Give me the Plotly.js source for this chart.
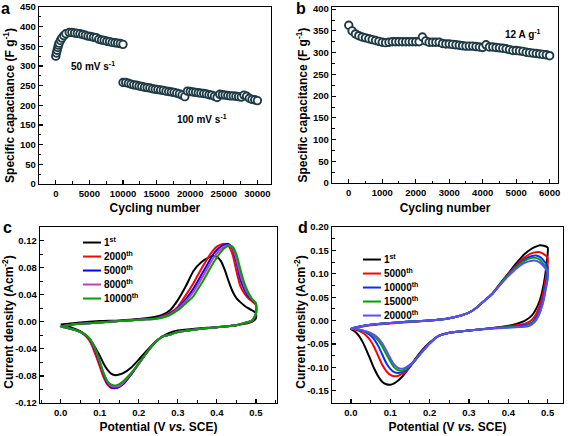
<!DOCTYPE html>
<html>
<head>
<meta charset="utf-8">
<script src="https://cdn.plot.ly/plotly-3.0.1.min.js"></script>
<style>html,body{margin:0;padding:0;background:#fff;}#chart{width:569px;height:436px;}</style>
</head>
<body>
<div id="chart"></div>
<script>
// ---------- Panel a: cycling at 50 and 100 mV/s ----------
var cyclesA50 = [0,100,200,300,400,500,700,900,1200,1500,2000,2400,2800,3200,3600,4000,4400,4800,5200,5600,6000,6400,6800,7200,7600,8000,8400,8800,9200,9600,10000];
var capA50 = [325,333,340,347,353,358,365,371,377,382,385,385,384,383,382,380,378,376,375,373,372,368,366,365,363,362,360,359,358,357,355];
var cyclesA100 = [10000,10400,10800,11200,11600,12000,12400,12800,13200,13600,14000,14400,14800,15200,15600,16000,16400,16800,17200,17600,18000,18400,18800,19200,19600,20000,20400,20800,21200,21600,22000,22400,22800,23200,23600,24000,24400,24800,25200,25600,26000,26400,26800,27200,27600,28000,28400,28800,29200,29600,30000];
var capA100 = [258,258,256,254,252,251,249,248,246,245,244,242,241,240,239,238,236,235,234,233,231,229,226,222,236,235,234,233,232,231,230,229,227,226,223,220,228,227,226,225,224,224,223,222,221,226,223,218,215,214,212];

// ---------- Panel b: cycling at 12 A/g ----------
var cyclesB = [0,100,200,300,400,500,600,700,800,900,1000,1100,1200,1300,1400,1500,1600,1700,1800,1900,2000,2100,2200,2300,2400,2500,2600,2700,2800,2900,3000,3100,3200,3300,3400,3500,3600,3700,3800,3900,4000,4100,4200,4300,4400,4500,4600,4700,4800,4900,5000,5100,5200,5300,5400,5500,5600,5700,5800,5900,6000];
var capB = [363,350,343,339,336,334,332,330,328,326,324,323,324,325,325,325,325,325,325,325,325,325,336,327,324,324,324,324,321,320,320,319,318,317,316,315,315,315,314,313,312,318,313,313,312,311,310,309,307,305,305,304,303,301,300,299,298,297,296,295,293];

// ---------- Panel c: CV curves ----------
var potC = [0.00,0.02,0.05,0.10,0.15,0.20,0.24,0.26,0.28,0.30,0.32,0.34,0.36,0.38,0.39,0.40,0.41,0.42,0.43,0.44,0.45,0.46,0.47,0.48,0.49,0.50,
            0.50,
            0.49,0.47,0.45,0.40,0.35,0.30,0.28,0.26,0.24,0.22,0.20,0.18,0.16,0.15,0.14,0.13,0.12,0.11,0.10,0.09,0.08,0.07,0.05,0.03,0.01,0.00];
var curC1 = [-0.004,-0.003,-0.001,0.001,0.002,0.004,0.007,0.010,0.017,0.032,0.052,0.075,0.088,0.095,0.097,0.096,0.090,0.077,0.060,0.045,0.035,0.029,0.024,0.020,0.017,0.013,
             0.005,
             0.000,-0.003,-0.005,-0.008,-0.010,-0.013,-0.016,-0.022,-0.031,-0.043,-0.056,-0.068,-0.076,-0.078,-0.079,-0.077,-0.071,-0.062,-0.050,-0.040,-0.030,-0.023,-0.014,-0.009,-0.006,-0.005];
var curC2000 = [-0.007,-0.005,-0.003,-0.001,0.001,0.003,0.005,0.008,0.013,0.022,0.039,0.057,0.078,0.097,0.105,0.111,0.114,0.115,0.112,0.100,0.075,0.053,0.042,0.035,0.030,0.025,
                0.010,
                0.001,-0.002,-0.005,-0.008,-0.011,-0.015,-0.019,-0.022,-0.032,-0.046,-0.062,-0.078,-0.092,-0.096,-0.098,-0.098,-0.093,-0.082,-0.066,-0.050,-0.035,-0.025,-0.015,-0.011,-0.008,-0.007];
var curC5000 = [-0.007,-0.005,-0.003,-0.001,0.001,0.003,0.005,0.007,0.012,0.020,0.033,0.049,0.069,0.089,0.099,0.106,0.111,0.114,0.115,0.108,0.088,0.063,0.048,0.038,0.032,0.027,
                0.012,
                0.002,-0.002,-0.005,-0.008,-0.011,-0.015,-0.019,-0.022,-0.032,-0.046,-0.062,-0.078,-0.092,-0.096,-0.098,-0.097,-0.091,-0.078,-0.061,-0.045,-0.032,-0.023,-0.015,-0.011,-0.008,-0.007];
var curC8000 = [-0.007,-0.005,-0.003,-0.001,0.001,0.003,0.004,0.007,0.011,0.019,0.030,0.044,0.063,0.083,0.093,0.101,0.107,0.111,0.113,0.110,0.093,0.070,0.053,0.041,0.033,0.028,
                0.012,
                0.002,-0.002,-0.005,-0.008,-0.011,-0.015,-0.019,-0.022,-0.032,-0.046,-0.062,-0.077,-0.090,-0.095,-0.096,-0.095,-0.089,-0.076,-0.059,-0.043,-0.031,-0.022,-0.015,-0.011,-0.008,-0.007];
var curC10000 = [-0.007,-0.005,-0.003,-0.001,0.001,0.003,0.004,0.006,0.010,0.017,0.027,0.038,0.056,0.076,0.086,0.095,0.103,0.109,0.112,0.111,0.100,0.078,0.058,0.044,0.034,0.027,
                 0.012,
                 0.002,-0.002,-0.005,-0.008,-0.011,-0.015,-0.019,-0.022,-0.032,-0.046,-0.061,-0.076,-0.088,-0.092,-0.094,-0.093,-0.088,-0.076,-0.058,-0.042,-0.030,-0.022,-0.015,-0.011,-0.008,-0.007];
var namesC = ['1<sup>st</sup>','2000<sup>th</sup>','5000<sup>th</sup>','8000<sup>th</sup>','10000<sup>th</sup>'];
var tickValsCy = [-0.12,-0.08,-0.04,0,0.04,0.08,0.12];
var tickTextCy = ['-0.12','-0.08','-0.04','0.00','0.04','0.08','0.12'];

// ---------- Panel d: CV curves ----------
var potD = [0.00,0.02,0.05,0.10,0.15,0.20,0.25,0.28,0.30,0.32,0.34,0.36,0.38,0.40,0.42,0.44,0.46,0.47,0.48,0.49,0.50,
            0.50,
            0.495,0.49,0.48,0.47,0.46,0.45,0.44,0.42,0.40,0.35,0.30,0.25,0.22,0.20,0.18,0.16,0.14,0.13,0.12,0.11,0.10,0.09,0.08,0.07,0.06,0.05,0.04,0.03,0.02,0.01,0.00];
var curD1 = [-0.018,-0.013,-0.009,-0.005,-0.002,0.000,0.005,0.011,0.017,0.028,0.043,0.058,0.080,0.101,0.122,0.141,0.154,0.158,0.161,0.160,0.156,
             0.143,
             0.105,0.078,0.043,0.024,0.011,0.004,-0.001,-0.007,-0.011,-0.017,-0.021,-0.026,-0.034,-0.047,-0.064,-0.086,-0.110,-0.120,-0.128,-0.134,-0.137,-0.136,-0.131,-0.120,-0.104,-0.084,-0.064,-0.046,-0.032,-0.023,-0.018];
var curD5000 = [-0.018,-0.014,-0.010,-0.006,-0.003,0.000,0.005,0.011,0.017,0.028,0.043,0.058,0.079,0.099,0.118,0.134,0.144,0.146,0.146,0.142,0.134,
                0.121,
                0.090,0.065,0.033,0.013,0.002,-0.004,-0.007,-0.010,-0.012,-0.017,-0.021,-0.026,-0.034,-0.048,-0.066,-0.088,-0.109,-0.114,-0.118,-0.119,-0.116,-0.108,-0.095,-0.077,-0.058,-0.043,-0.033,-0.026,-0.022,-0.019,-0.018];
var curD10000 = [-0.017,-0.013,-0.009,-0.005,-0.002,0.000,0.005,0.011,0.017,0.028,0.043,0.058,0.078,0.098,0.116,0.130,0.138,0.139,0.136,0.128,0.115,
                 0.103,
                 0.076,0.052,0.022,0.006,-0.004,-0.008,-0.010,-0.012,-0.013,-0.017,-0.021,-0.026,-0.034,-0.049,-0.067,-0.088,-0.106,-0.110,-0.112,-0.110,-0.103,-0.091,-0.073,-0.055,-0.041,-0.032,-0.026,-0.022,-0.020,-0.018,-0.017];
var curD15000 = [-0.017,-0.013,-0.009,-0.005,-0.002,0.000,0.005,0.011,0.017,0.028,0.043,0.058,0.078,0.097,0.114,0.127,0.134,0.134,0.130,0.120,0.106,
                 0.089,
                 0.066,0.044,0.017,0.002,-0.006,-0.010,-0.012,-0.013,-0.014,-0.017,-0.021,-0.026,-0.034,-0.049,-0.068,-0.088,-0.103,-0.107,-0.106,-0.100,-0.087,-0.072,-0.056,-0.043,-0.034,-0.028,-0.024,-0.021,-0.019,-0.018,-0.017];
var curD20000 = [-0.017,-0.013,-0.009,-0.005,-0.002,0.000,0.005,0.011,0.017,0.028,0.043,0.058,0.077,0.095,0.111,0.123,0.128,0.128,0.124,0.116,0.103,
                 0.092,
                 0.070,0.046,0.017,0.000,-0.008,-0.012,-0.013,-0.014,-0.015,-0.018,-0.021,-0.026,-0.034,-0.049,-0.068,-0.087,-0.100,-0.103,-0.101,-0.094,-0.080,-0.064,-0.049,-0.038,-0.031,-0.026,-0.023,-0.021,-0.019,-0.018,-0.017];
var namesD = ['1<sup>st</sup>','5000<sup>th</sup>','10000<sup>th</sup>','15000<sup>th</sup>','20000<sup>th</sup>'];
var tickValsDy = [-0.15,-0.10,-0.05,0,0.05,0.10,0.15,0.20];
var tickTextDy = ['-0.15','-0.10','-0.05','0.00','0.05','0.10','0.15','0.20'];

var colorsC = ['#000000','#ff0000','#0000ff','#c03fc0','#00a000'];
var colorsD = ['#000000','#ff0000','#0a2cff','#00a000','#5a4dff'];

// ---------- build ----------
var FONT = 'Liberation Sans, Arial, Helvetica, sans-serif';
var markerA = {symbol:'circle', size:7.5, color:'rgba(255,255,255,1)', line:{color:'#1d3a45', width:1.9}};
var traces = [];
traces.push({x:cyclesA50, y:capA50, xaxis:'x', yaxis:'y', mode:'markers', marker:markerA, showlegend:false});
traces.push({x:cyclesA100, y:capA100, xaxis:'x', yaxis:'y', mode:'markers', marker:markerA, showlegend:false});
traces.push({x:cyclesB, y:capB, xaxis:'x2', yaxis:'y2', mode:'markers', marker:markerA, showlegend:false});
var cSeries = [curC1, curC2000, curC5000, curC8000, curC10000];
cSeries.forEach(function(c,i){
  traces.push({x:potC, y:c, xaxis:'x3', yaxis:'y3', mode:'lines', name:namesC[i],
    line:{color:colorsC[i], width:2, shape:'spline', smoothing:0.6}, legend:'legend'});
});
var dSeries = [curD1, curD5000, curD10000, curD15000, curD20000];
dSeries.forEach(function(c,i){
  traces.push({x:potD, y:c, xaxis:'x4', yaxis:'y4', mode:'lines', name:namesD[i],
    line:{color:colorsD[i], width:2, shape:'spline', smoothing:0.6}, legend:'legend2'});
});

function minor(d){ return {ticks:'inside', ticklen:2.5, tickwidth:1, tickcolor:'#000', dtick:d}; }
function ax(o){
  var base = {showline:true, linecolor:'#000', linewidth:1.3, mirror:true, showgrid:false, zeroline:false,
    ticks:'inside', ticklen:4, tickwidth:1.2, tickcolor:'#000',
    tickfont:{family:FONT, size:9.5, color:'#000', weight:'bold'}};
  for (var k in o) base[k]=o[k];
  return base;
}
function ttl(t, s){ return {text:t, font:{family:FONT, size:12, color:'#000', weight:'bold'}, standoff:s}; }

var layout = {
  width:569, height:436, margin:{l:0,r:0,t:0,b:0}, paper_bgcolor:'#fff', plot_bgcolor:'#fff',
  font:{family:FONT, color:'#000'},
  xaxis: ax({domain:[0.0685,0.476], range:[-2500,32000], dtick:5000, tick0:0, tickformat:'d', minor:minor(2500), anchor:'y', title:ttl('Cycling number',6)}),
  yaxis: ax({domain:[0.578,0.984], range:[0,450], dtick:50, tickformat:'d', minor:minor(25), anchor:'x', title:ttl('Specific capacitance (F g<sup>-1</sup>)',5)}),
  xaxis2: ax({domain:[0.5835,0.9807], range:[-500,6250], dtick:1000, tick0:0, tickformat:'d', minor:minor(500), anchor:'y2', title:ttl('Cycling number',6)}),
  yaxis2: ax({domain:[0.580,0.984], range:[0,405], dtick:50, tickformat:'d', minor:minor(25), anchor:'x2', title:ttl('Specific capacitance (F g<sup>-1</sup>)',5)}),
  xaxis3: ax({domain:[0.0703,0.4868], range:[-0.053,0.554], dtick:0.1, tick0:0, tickformat:'.1f', minor:minor(0.05), anchor:'y3', title:ttl('Potential (V <i>vs.</i> SCE)',6)}),
  yaxis3: ax({domain:[0.0757,0.4794], range:[-0.12,0.14], tickmode:'array', tickvals:tickValsCy, ticktext:tickTextCy, minor:minor(0.02), anchor:'x3', title:ttl('Current density (Acm<sup>-2</sup>)',5)}),
  xaxis4: ax({domain:[0.5835,0.9895], range:[-0.048,0.539], dtick:0.1, tick0:0, tickformat:'.1f', minor:minor(0.05), anchor:'y4', title:ttl('Potential (V <i>vs.</i> SCE)',6)}),
  yaxis4: ax({domain:[0.0757,0.4794], range:[-0.176,0.20], tickmode:'array', tickvals:tickValsDy, ticktext:tickTextDy, minor:minor(0.025), anchor:'x4', title:ttl('Current density (Acm<sup>-2</sup>)',5)}),
  legend: {x:0.137, y:0.477, xanchor:'left', yanchor:'top', bgcolor:'rgba(0,0,0,0)', borderwidth:0,
    font:{family:FONT, size:10, color:'#000', weight:'bold'}},
  legend2: {x:0.629, y:0.438, xanchor:'left', yanchor:'top', bgcolor:'rgba(0,0,0,0)', borderwidth:0,
    font:{family:FONT, size:10, color:'#000', weight:'bold'}},
  annotations: [
    {text:'a', xref:'paper', yref:'paper', x:0.009, y:0.98, xanchor:'center', yanchor:'middle', showarrow:false, font:{family:FONT,size:16,weight:'bold'}},
    {text:'b', xref:'paper', yref:'paper', x:0.529, y:0.98, xanchor:'center', yanchor:'middle', showarrow:false, font:{family:FONT,size:16,weight:'bold'}},
    {text:'c', xref:'paper', yref:'paper', x:0.014, y:0.478, xanchor:'center', yanchor:'middle', showarrow:false, font:{family:FONT,size:16,weight:'bold'}},
    {text:'d', xref:'paper', yref:'paper', x:0.532, y:0.478, xanchor:'center', yanchor:'middle', showarrow:false, font:{family:FONT,size:16,weight:'bold'}},
    {text:'50 mV s<sup>-1</sup>', xref:'x', yref:'y', x:5570, y:301, showarrow:false, font:{family:FONT,size:10,weight:'bold'}},
    {text:'100 mV s<sup>-1</sup>', xref:'x', yref:'y', x:21800, y:166, showarrow:false, font:{family:FONT,size:10,weight:'bold'}},
    {text:'12 A g<sup>-1</sup>', xref:'x2', yref:'y2', x:5214, y:344, showarrow:false, font:{family:FONT,size:10,weight:'bold'}}
  ]
};

function compactLegends(gd){
  var groups = gd.querySelectorAll('g.legend, g.legend2');
  groups.forEach(function(lg){
    var items = lg.querySelectorAll('g.traces');
    var x0 = null, y0 = null;
    items.forEach(function(it, i){
      if (it.getAttribute('data-compact')) {
        var tr0 = it.getAttribute('data-compact').split(',');
        it.setAttribute('transform', 'translate(' + tr0[0] + ',' + tr0[1] + ')');
      } else {
        var m = /translate\(\s*([-\d.]+)[ ,]+([-\d.]+)\s*\)/.exec(it.getAttribute('transform') || '');
        if (!m) return;
        if (x0 === null) { x0 = parseFloat(m[1]); y0 = parseFloat(m[2]); }
        var ny = y0 + i*14;
        it.setAttribute('transform', 'translate(' + x0 + ',' + ny + ')');
        it.setAttribute('data-compact', x0 + ',' + ny);
      }
      it.querySelectorAll('path').forEach(function(p){
        var d = p.getAttribute('d') || '';
        if (/^M5,0h30/.test(d)) p.setAttribute('d','M5,0h18');
      });
      it.querySelectorAll('text').forEach(function(t){
        t.setAttribute('x', 26);
        t.querySelectorAll('tspan[x]').forEach(function(s){ s.setAttribute('x', 26); });
      });
    });
  });
  // nudge the y-axis titles (along and away from the axis), as in the reference
  var shifts = {'g-ytitle':[3,10], 'g-y2title':[3,10], 'g-y3title':[6,7], 'g-y4title':[6,7]};
  Object.keys(shifts).forEach(function(cls){
    var g = gd.querySelector('g.' + cls);
    if (g) g.setAttribute('transform', 'translate(' + shifts[cls][0] + ',' + shifts[cls][1] + ')');
  });
}

Plotly.newPlot('chart', traces, layout, {staticPlot:true, displayModeBar:false}).then(function(gd){
  compactLegends(gd);
  setTimeout(function(){ compactLegends(gd); }, 60);
});
</script>
</body>
</html>
